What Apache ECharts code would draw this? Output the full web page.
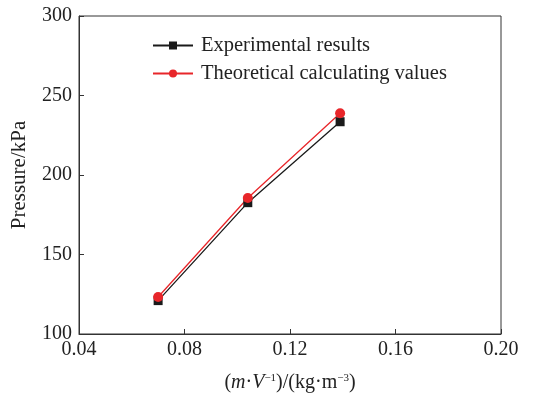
<!DOCTYPE html>
<html>
<head>
<meta charset="utf-8">
<script src="https://cdn.jsdelivr.net/npm/echarts@6/dist/echarts.min.js"></script>
<style>
  html, body { margin: 0; padding: 0; background: #fff; }
  #chart { width: 544px; height: 399px; }
</style>
</head>
<body>
<div id="chart"></div>
<script>
// density values (m·V^-1)
const density = [0.07, 0.104, 0.139];
const experimental = [121, 182.6, 233.5];
const theoretical = [123.3, 185.5, 238.8];
const xTicks = [0.04, 0.08, 0.12, 0.16, 0.20];
const yTicks = [100, 150, 200, 250, 300];

const font = '"Liberation Serif", "Times New Roman", serif';

const chart = echarts.init(document.getElementById('chart'), null, { renderer: 'canvas' });

const pairs = (ys) => density.map((x, i) => [x, ys[i]]);

chart.setOption({
  animation: false,
  grid: {
    left: 79, right: 43, top: 16, bottom: 65,
    show: true, borderColor: '#333', borderWidth: 1
  },
  legend: {
    orient: 'vertical',
    left: 152, top: 35, padding: 0,
    itemWidth: 40, itemHeight: 10, itemGap: 7,
    textStyle: { fontFamily: font, fontSize: 20.5, color: '#222', padding: [0, 0, 0, 3] },
    data: ['Experimental results', 'Theoretical calculating values']
  },
  xAxis: {
    type: 'value',
    min: 0.04, max: 0.20, interval: 0.04,
    name: '({i|m}·{i|V}{s|−1})/(kg·m{s|−3})',
    nameLocation: 'middle', nameGap: 39,
    nameTextStyle: {
      fontFamily: font, fontSize: 20, color: '#222',
      rich: {
        i: { fontFamily: font, fontSize: 20, fontStyle: 'italic', color: '#222' },
        s: { fontFamily: font, fontSize: 11, color: '#222', verticalAlign: 'top', padding: [0, 0, 9, 0] }
      }
    },
    axisLine: { lineStyle: { color: '#333' } },
    axisTick: { inside: true, length: 5, lineStyle: { color: '#333' } },
    splitLine: { show: false },
    axisLabel: {
      fontFamily: font, fontSize: 20, color: '#222', margin: 6,
      formatter: (v) => v.toFixed(2)
    }
  },
  yAxis: {
    type: 'value',
    min: 100, max: 300, interval: 50,
    name: 'Pressure/kPa',
    nameLocation: 'middle', nameGap: 49,
    nameTextStyle: { fontFamily: font, fontSize: 21, color: '#222' },
    axisLine: { show: true, lineStyle: { color: '#333' } },
    axisTick: { show: true, inside: true, length: 5, lineStyle: { color: '#333' } },
    splitLine: { show: false },
    axisLabel: { fontFamily: font, fontSize: 20, color: '#222', margin: 7 }
  },
  series: [
    {
      name: 'Experimental results',
      type: 'line',
      data: pairs(experimental),
      symbol: 'rect', symbolSize: 9,
      lineStyle: { color: '#1a1a1a', width: 1.3 },
      itemStyle: { color: '#1a1a1a' }
    },
    {
      name: 'Theoretical calculating values',
      type: 'line',
      data: pairs(theoretical),
      symbol: 'circle', symbolSize: 10,
      lineStyle: { color: '#e8262a', width: 1.3 },
      itemStyle: { color: '#e8262a' }
    }
  ]
});
</script>
</body>
</html>
